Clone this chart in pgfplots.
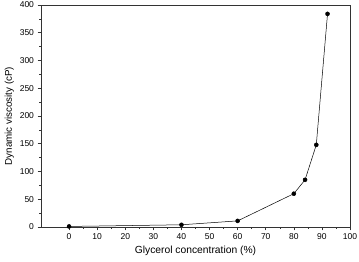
\documentclass[border=0pt]{standalone}
\usepackage{pgfplots}
\pgfplotsset{compat=1.18}
\usepackage{fontspec}
\setmainfont{Liberation Sans}
\begin{document}
\begin{tikzpicture}
\begin{axis}[
  scale only axis,
  width=309pt, height=222pt,
  xmin=-10, xmax=100, ymin=0, ymax=400,
  xtick={0,10,...,100},
  ytick={0,50,...,400},
  minor x tick num=1,
  minor y tick num=1,
  tick align=outside,
  xtick pos=bottom, ytick pos=left,
  major tick length=3.5pt, minor tick length=2pt,
  axis line style={line width=0.6pt, black!80},
  every tick/.style={black!80, line width=0.5pt},
  /pgf/number format/assume math mode=true,
  tick label style={font=\fontsize{8.5}{10}\selectfont},
  xlabel={\fontsize{10.3}{12}\selectfont Glycerol concentration (\%)},
  ylabel={\fontsize{9.8}{12}\selectfont Dynamic viscosity (cP)},
  xlabel style={yshift=1pt},
  ylabel style={yshift=-1pt},
  scaled ticks=false,
]
\addplot[black, line width=0.5pt, mark=*, mark size=2pt] coordinates {
  (0,1) (40,4) (60,11) (80,60) (84,85) (88,148) (92,384)
};
\coordinate (ll) at (rel axis cs:0,0);
\coordinate (ur) at (rel axis cs:1,1);
\end{axis}
\pgfresetboundingbox
\path[use as bounding box] ([shift={(-41pt,-35pt)}]ll) rectangle ([shift={(9pt,5pt)}]ur);
\end{tikzpicture}
\end{document}
